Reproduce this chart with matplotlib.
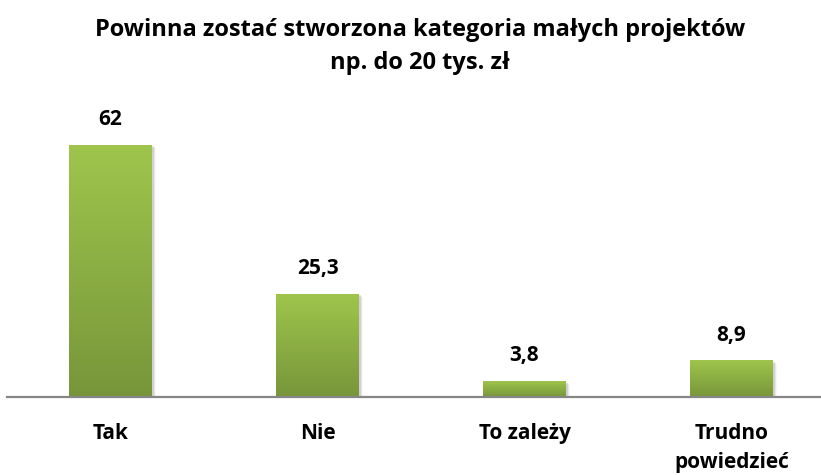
import numpy as np
import matplotlib
matplotlib.use("Agg")
import matplotlib.pyplot as plt
from matplotlib.colors import LinearSegmentedColormap

categories = ["Tak", "Nie", "To zależy", "Trudno\npowiedzieć"]
values = [62, 25.3, 3.8, 8.9]
value_labels = ["62", "25,3", "3,8", "8,9"]
title = "Powinna zostać stworzona kategoria małych projektów\nnp. do 20 tys. zł"

plt.rcParams['font.family'] = ['Open Sans', 'DejaVu Sans']

W, H = 821, 475
fig = plt.figure(figsize=(W / 100, H / 100), dpi=100)
ax_left = 7 / W
ax_width = 828 / W
ax_bottom = (H - 397) / H
ax_height = (397 - 112.5) / H
ax = fig.add_axes([ax_left, ax_bottom, ax_width, ax_height])
ax.set_xlim(-0.5, 3.5)
ax.set_ylim(0, 70)

cmap = LinearSegmentedColormap.from_list("g", ["#77963a", "#9fc54c"])
grad = np.linspace(0, 1, 256).reshape(-1, 1)
bw = 0.40
x = np.arange(len(categories))

# shadows
for dx, dy, a in [(0.006, -0.25, 0.10), (0.012, -0.5, 0.06), (0.018, -0.75, 0.03)]:
    ax.bar(x + dx, values, width=bw + 0.004, bottom=dy, color="#000000", alpha=a,
           linewidth=0, zorder=1)

bars = ax.bar(x, values, width=bw, color="#8aae42", linewidth=0, zorder=2)
for b in bars:
    x0, y0 = b.get_x(), b.get_y()
    w, h = b.get_width(), b.get_height()
    ax.imshow(grad, cmap=cmap, origin="lower", aspect="auto",
              extent=(x0, x0 + w, y0, y0 + h), zorder=3, interpolation="bilinear")
ax.set_xlim(-0.5, 3.5)
ax.set_ylim(0, 70)

for xi, v, lab in zip(x, values, value_labels):
    ax.annotate(lab, (xi, v), xytext=(0, 11), textcoords="offset points",
                ha="center", va="bottom", fontsize=15, fontweight="bold", color="#000000")

for s in ["top", "right", "left"]:
    ax.spines[s].set_visible(False)
ax.spines["bottom"].set_color("#868686")
ax.spines["bottom"].set_linewidth(1.6)
ax.spines["bottom"].set_zorder(5)
ax.set_yticks([])
ax.set_xticks(x)
ax.set_xticklabels(categories, fontsize=15, fontweight="bold", va="top", linespacing=1.45)
ax.tick_params(axis="x", length=0, pad=19)

fig.text(0.5116, 1 - 46.5 / H, title, ha="center", va="center", fontsize=17,
         fontweight="bold", linespacing=1.45)

fig.savefig("out.png", dpi=100)
